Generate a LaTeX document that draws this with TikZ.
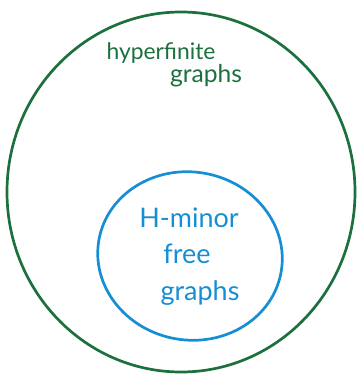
\documentclass[tikz,border=0pt]{standalone}
\usepackage{fontspec}
\setmainfont{Lato}
\usepackage{tikz}
\usetikzlibrary{shapes.geometric,positioning}
\definecolor{setgreen}{RGB}{28,112,62}
\definecolor{setblue}{RGB}{22,142,212}

\begin{document}
\begin{tikzpicture}[x=0.03cm,y=-0.03cm]

\tikzset{
  setline/.style={ellipse, draw, line width=2.3pt, inner sep=0pt},
  setlabel/.style={font=\fontsize{21}{24}\selectfont, anchor=base, inner sep=0pt},
  biglabel/.style={setlabel, font=\fontsize{23}{26}\selectfont}
}

\useasboundingbox (0,0) rectangle (361,375);

% Hyperfinite graphs
\node[setline, draw=setgreen, minimum width=10.44cm, minimum height=10.8cm] (hyper) at (181,192) {};
\node[setlabel, text=setgreen, font=\fontsize{19.5}{22}\selectfont] (hyperA) at (161,60) {hyperfinite};
\node[setlabel, text=setgreen] (hyperB) at (206,83) {graphs};

% H-minor free graphs
\node[setline, draw=setblue, minimum width=5.55cm, minimum height=5.04cm, rotate=-10] (minor) at (190,256) {};
\node[biglabel, text=setblue] (minorA) at (189,227) {H-minor};
\node[biglabel, text=setblue] (minorB) at (187,263) {free};
\node[biglabel, text=setblue] (minorC) at (200,300) {graphs};

\end{tikzpicture}
\end{document}
